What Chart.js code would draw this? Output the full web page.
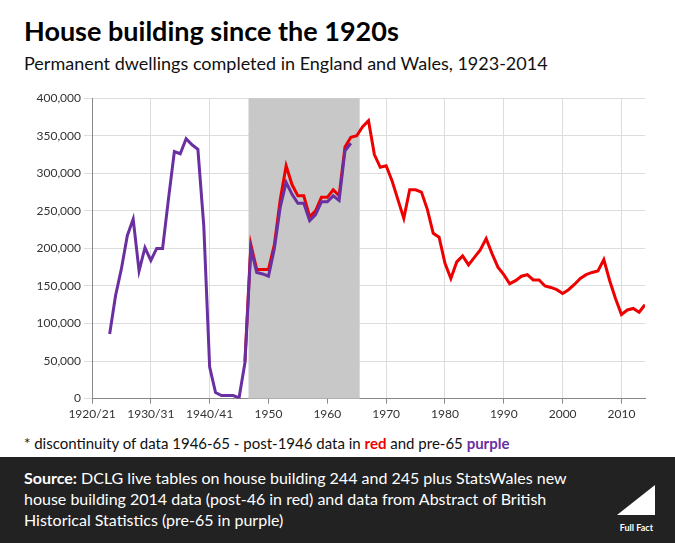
<!DOCTYPE html>
<html><head><meta charset="utf-8">
<script src="https://cdn.jsdelivr.net/npm/chart.js@4"></script>
<style>
body{margin:0;width:675px;height:543px;background:#fff;font-family:Lato,"Open Sans",sans-serif;position:relative;overflow:hidden}
#t{position:absolute;left:24px;top:14px;font-size:27px;font-weight:bold;color:#000}
#s{position:absolute;left:24px;top:52px;font-size:18px;color:#111}
#c{position:absolute;left:0;top:88px;width:648px;height:336px}
#n{position:absolute;left:24px;top:434px;font-size:15px;color:#111}
#f{position:absolute;left:0;top:457px;width:675px;height:86px;background:#222;color:#fff;font-size:16px;line-height:21px}
#f div{position:absolute;left:24px;top:10px;width:575px}
#tri{position:absolute;right:20px;top:28px;width:0;height:0;border-left:38px solid transparent;border-bottom:30px solid #fff}
#logo{position:absolute;right:22px;top:60px;font-size:9px;font-weight:bold;color:#fff}
</style></head><body>
<div id="t">House building since the 1920s</div>
<div id="s">Permanent dwellings completed in England and Wales, 1923-2014</div>
<div id="c"><canvas id="chart"></canvas></div>
<div id="n">* discontinuity of data 1946-65 - post-1946 data in <b style="color:#e00">red</b> and pre-65 <b style="color:#6a2fa0">purple</b></div>
<div id="f"><div><b>Source:</b> DCLG live tables on house building 244 and 245 plus StatsWales new house building 2014 data (post-46 in red) and data from Abstract of British Historical Statistics (pre-65 in purple)</div><span id="tri"></span><span id="logo">Full Fact</span></div>
<script>
// pre-1965 series (purple), from 1923
const purpleStart = 1923;
const purpleValues = [86,137,173,217,239,170,201,184,200,200,266,329,326,346,338,332,230,42,8,4,4,4,1,48,200,168,166,163,200,255,288,272,260,260,237,245,262,262,270,264,330,340];
// post-1946 series (red), from 1946
const redStart = 1946;
const redValues = [50,205,172,172,172,205,265,310,285,270,270,242,250,268,268,278,270,335,348,350,362,370,325,308,310,290,265,240,278,278,275,252,220,215,180,160,182,190,178,188,198,213,193,175,165,153,157,163,165,158,158,150,148,145,140,145,152,160,165,168,170,185,157,133,112,118,120,115,125];
const xTicks = {1920:'1920/21',1930:'1930/31',1940:'1940/41',1950:'1950',1960:'1960',1970:'1970',1980:'1980',1990:'1990',2000:'2000',2010:'2010'};
const shadeFrom = 1946.6, shadeTo = 1965.5;

const toPts = (start, vals) => vals.map((v,i) => ({x:start+i, y:v*1000}));

const shade = {
  id:'shade',
  beforeDatasetsDraw(chart){
    const {ctx, scales:{x,y}} = chart;
    ctx.save();
    ctx.fillStyle = '#c8c8c8';
    ctx.fillRect(x.getPixelForValue(shadeFrom), y.getPixelForValue(400000), x.getPixelForValue(shadeTo)-x.getPixelForValue(shadeFrom), y.getPixelForValue(0)-y.getPixelForValue(400000));
    ctx.restore();
  }
};

new Chart(document.getElementById('chart'), {
  type:'line',
  data:{datasets:[
    {data:toPts(purpleStart,purpleValues), borderColor:'#6a2fa0', borderWidth:3, pointRadius:0, tension:0},
    {data:toPts(redStart,redValues), borderColor:'#ee0000', borderWidth:3, pointRadius:0, tension:0}
  ]},
  options:{
    animation:false, responsive:true, maintainAspectRatio:false,
    layout:{padding:{top:5,right:3}},
    plugins:{legend:{display:false}, tooltip:{enabled:false}},
    scales:{
      x:{type:'linear', min:1920, max:2014,
        afterBuildTicks(s){ s.ticks = Object.keys(xTicks).map(v=>({value:+v})); },
        ticks:{autoSkip:false, maxRotation:0, color:'#333', font:{size:12, family:'Lato'}, callback:v=>xTicks[v]},
        grid:{color:'#ddd', tickColor:'#888', tickLength:5},
        border:{color:'#888'}},
      y:{min:0, max:400000,
        afterFit(s){ s.width = 92; },
        ticks:{stepSize:50000, color:'#333', font:{size:12, family:'Lato'}, callback:v=>v.toLocaleString('en-GB')},
        grid:{color:'#ddd', tickLength:8},
        border:{color:'#888'}}
    }
  },
  plugins:[shade]
});
</script>
</body></html>
